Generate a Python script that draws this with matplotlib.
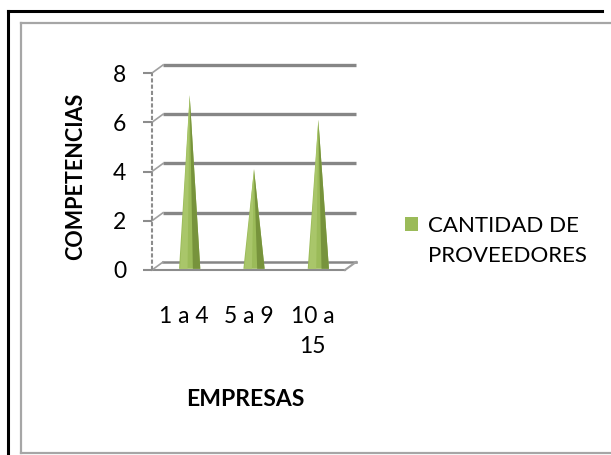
import numpy as np
import matplotlib
matplotlib.use("Agg")
import matplotlib.pyplot as plt
from matplotlib.lines import Line2D
from matplotlib.patches import Patch

# data
categories = ["1 a 4", "5 a 9", "10 a\n15"]
values = [7, 4, 6]
series_name = ["CANTIDAD DE", "PROVEEDORES"]
y_ticks = [0, 2, 4, 6, 8]

W, H = 611, 455
plt.rcParams['font.family'] = ['Lato', 'DejaVu Sans']

fig = plt.figure(figsize=(W / 100, H / 100), dpi=100)

def px(x, y):
    # pixel position -> figure fraction
    return x / W, 1 - y / H

# outer frame lines (black left/top, gray inner box)
frame = [
    ([8, 8], [11, 455], "black", 2.2),
    ([8, 602], [11, 11], "black", 2.2),
    ([21, 21], [23, 453], "#a6a6a6", 1.6),
    ([21, 611], [23, 23], "#a6a6a6", 1.6),
    ([21, 611], [453, 453], "#a6a6a6", 1.6),
]
for xs, ys, c, lw in frame:
    fx = [x / W for x in xs]
    fy = [1 - y / H for y in ys]
    fig.add_artist(Line2D(fx, fy, color=c, lw=lw, transform=fig.transFigure))

# axes: front plane x -0.5..2.5 -> 152..345 px, y 0..8 -> 270..73 px
ax = fig.add_axes([152 / W, (H - 270) / H, 193 / W, 197 / H])
ax.set_xlim(-0.5, 2.5)
ax.set_ylim(0, 8)
for s in ax.spines.values():
    s.set_visible(False)

# depth offset of the 3d back wall (in data units)
dx = 11 / 64.3
dy = 8 / 24.6
grid_c = "#868686"

# back wall gridlines + side diagonals
for t in y_ticks[1:]:
    ax.plot([-0.5 + dx, 2.5 + dx], [t + dy, t + dy], color=grid_c, lw=2.4,
            solid_capstyle="butt", clip_on=False, zorder=1)
    ax.plot([-0.5, -0.5 + dx], [t, t + dy], color="#a0a0a0", lw=1.2,
            clip_on=False, zorder=1)

# floor
ax.plot([-0.5, 2.5], [0, 0], color="#8c8c8c", lw=1.5, clip_on=False, zorder=1)
ax.plot([-0.5 + dx, 2.5 + dx], [dy, dy], color=grid_c, lw=1.8, clip_on=False, zorder=1)
ax.plot([-0.5, -0.5 + dx], [0, dy], color="#a0a0a0", lw=1.2, clip_on=False, zorder=1)
ax.plot([2.5, 2.5 + dx], [0, dy], color="#a0a0a0", lw=1.5, clip_on=False, zorder=1)

# vertical axis (dashed)
ax.plot([-0.5, -0.5], [0, 8], color="#8c8c8c", lw=1.5, ls=(0, (2, 1)),
        clip_on=False, zorder=1)

# cones
hw = 0.165
for i, v in enumerate(values):
    cx = i + dx / 2
    base = dy * 0.15
    tip = v + dy * 0.3
    ax.fill([cx - hw, cx + hw, cx], [base, base, tip], color="#9bbb59",
            lw=0, zorder=3, clip_on=False)
    ax.fill([cx + hw * 0.3, cx + hw, cx], [base, base, tip], color="#77933c",
            lw=0, zorder=3, clip_on=False)
    ax.fill([cx - hw * 0.9, cx - hw * 0.2, cx], [base, base, tip], color="#a9c66a",
            lw=0, zorder=3, clip_on=False)

ax.set_yticks(y_ticks)
ax.set_yticklabels([str(t) for t in y_ticks])
ax.tick_params(axis="y", length=6.5, width=1.5, color="#8c8c8c", pad=12,
               labelsize=16.5, labelcolor="black")
ax.set_xticks(range(len(categories)))
ax.set_xticklabels(categories, linespacing=1.5)
ax.tick_params(axis="x", length=0, pad=26, labelsize=16.5, labelcolor="black")

# axis titles
fx, fy = px(76, 176)
fig.text(fx, fy, "COMPETENCIAS", rotation=90, ha="center", va="center",
         fontsize=15.5, fontweight="bold")
fx, fy = px(245, 399)
fig.text(fx, fy, "EMPRESAS", ha="center", va="center", fontsize=16.5,
         fontweight="bold")

# legend (second line of the label sits under the first)
handle = Patch(facecolor="#9bbb59", edgecolor="none")
fx, fy = px(405, 216)
leg = fig.legend([handle], [series_name[0]], loc="upper left",
                 bbox_to_anchor=(fx, fy), frameon=False, fontsize=16,
                 handlelength=0.6, handleheight=0.6, handletextpad=0.45,
                 borderaxespad=0, borderpad=0)
fx, fy = px(428, 256)
fig.text(fx, fy, series_name[1], ha="left", va="center", fontsize=16)

fig.savefig("out.png", dpi=100)
